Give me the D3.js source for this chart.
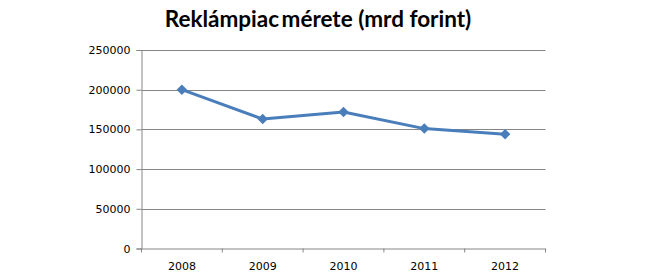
<!DOCTYPE html>
<html><head><meta charset="utf-8">
<script src="https://cdn.jsdelivr.net/npm/d3@7"></script>
<style>body{margin:0;background:#fff}svg{display:block}</style>
</head><body>
<script>
const title = "Reklámpiac mérete (mrd forint)";
const years = ["2008","2009","2010","2011","2012"];
const values = [200000,163000,172000,151000,144000];
const yTicks = [0,50000,100000,150000,200000,250000];

const W=645,H=277;
const m={left:141.5,right:99.5,top:50,bottom:28.5};
const svg=d3.select("body").append("svg").attr("width",W).attr("height",H);
const x=d3.scaleBand().domain(years).range([m.left,W-m.right]).padding(0);
const y=d3.scaleLinear().domain([0,250000]).range([H-m.bottom,m.top]);
const grey="#868686";

const parts=title.split(" ");
const t=svg.append("text").attr("x",318).attr("y",27).attr("text-anchor","middle")
  .attr("font-family","Lato, 'Open Sans', sans-serif").attr("font-weight","bold")
  .attr("font-size",22.5).attr("fill","#000");
t.append("tspan").text(parts[0]);
t.append("tspan").attr("dx",-3).text(" "+parts.slice(1).join(" "));

// gridlines
svg.append("g").selectAll("line").data(yTicks.filter(d=>d>0)).join("line")
  .attr("x1",m.left).attr("x2",W-m.right).attr("y1",d=>Math.round(y(d))+0.5).attr("y2",d=>Math.round(y(d))+0.5)
  .attr("stroke",grey).attr("stroke-width",1);

const yAxis=svg.append("g").attr("transform",`translate(${m.left},0)`)
  .call(d3.axisLeft(y).tickValues(yTicks).tickSize(5).tickPadding(6).tickFormat(d3.format("d")));
const xAxis=svg.append("g").attr("transform",`translate(0,${H-m.bottom})`)
  .call(d3.axisBottom(x).tickSize(0).tickPadding(14));
// x ticks at band boundaries
svg.append("g").selectAll("line").data(years.map(d=>x(d)).concat([x(years[years.length-1])+x.bandwidth()])).join("line")
  .attr("x1",d=>d).attr("x2",d=>d).attr("y1",H-m.bottom).attr("y2",H-m.bottom+4).attr("stroke",grey);

[yAxis,xAxis].forEach(g=>{
  g.selectAll("path,line").attr("stroke",grey);
  g.selectAll("text").attr("font-family","'DejaVu Sans', Verdana, sans-serif").attr("font-size",11).attr("fill","#000");
});
xAxis.select(".domain").attr("d",`M${m.left},0.5H${W-m.right}`);

const cx=d=>x(d)+x.bandwidth()/2;
const line=d3.line().x((d,i)=>cx(years[i])).y(d=>y(d));
svg.append("path").datum(values).attr("d",line).attr("fill","none")
  .attr("stroke","#4a7ebb").attr("stroke-width",3).attr("stroke-linejoin","round");
svg.append("g").selectAll("path").data(values).join("path")
  .attr("transform",(d,i)=>`translate(${cx(years[i])},${y(d)})`)
  .attr("d",d3.symbol().type(d3.symbolDiamond2).size(70)).attr("fill","#4a7ebb");
</script>
</body></html>
